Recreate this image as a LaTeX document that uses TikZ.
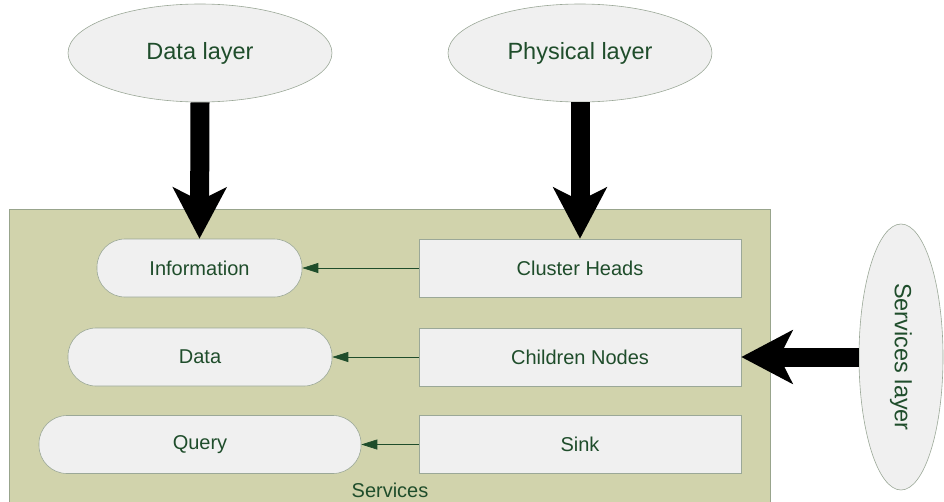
\documentclass[tikz,border=0pt]{standalone}
\usepackage{fontspec}
\setmainfont{Liberation Sans}
\usetikzlibrary{shapes.geometric,arrows.meta}
\definecolor{txt}{HTML}{1F4D2B}
\definecolor{panel}{HTML}{D1D3AC}
\definecolor{panelline}{HTML}{98A48C}
\definecolor{boxfill}{HTML}{F0F0F0}
\definecolor{boxline}{HTML}{9BA898}
\begin{document}
\begin{tikzpicture}[x=1pt,y=-1pt,
  layer/.style={ellipse,draw=boxline,fill=boxfill,line width=0.6pt,inner sep=0pt,text=txt,font=\fontsize{23.5}{26}\selectfont},
  pill/.style={rectangle,rounded corners=28pt,draw=boxline,fill=boxfill,line width=0.6pt,inner sep=0pt,minimum height=58pt,text=txt,font=\fontsize{20}{24}\selectfont},
  sbox/.style={rectangle,draw=boxline,fill=boxfill,line width=0.6pt,inner sep=0pt,minimum width=322pt,minimum height=58pt,text=txt,font=\fontsize{20}{24}\selectfont},
  thick arrow/.style={line width=19pt,-{Stealth[length=51pt,width=53pt,inset=13pt]}},
  thin arrow/.style={draw=txt,line width=0.7pt,-{Triangle[length=16pt,width=10pt]}}]
\useasboundingbox (0,0) rectangle (944,501);
\node[draw=panelline,fill=panel,line width=0.8pt,minimum width=761pt,minimum height=300pt,inner sep=0pt] (panel) at (389.5,359) {};
\node[text=txt,font=\fontsize{20}{24}\selectfont] (svc) at (390,490) {Services};
\node[layer,minimum width=264pt,minimum height=98pt] (dl) at (200,53) {Data layer};
\node[layer,minimum width=264pt,minimum height=98pt] (pl) at (580,53) {Physical layer};
\node[layer,minimum width=266pt,minimum height=84pt,rotate=-90] (sl) at (901,357) {Services layer};
\node[pill,minimum width=205pt] (info) at (199.5,268) {Information};
\node[pill,minimum width=264pt] (data) at (200,357) {Data};
\node[pill,minimum width=322pt] (query) at (200,444.5) {Query};
\node[sbox] (ch) at (580,268) {Cluster Heads};
\node[sbox] (cn) at (580,357) {Children Nodes};
\node[sbox] (sink) at (580,444.5) {Sink};
\draw[thick arrow] (dl.south) -- (info.north);
\draw[thick arrow] (pl.south) -- (ch.north);
\draw[thick arrow] (sl.south) -- (cn.east);
\draw[thin arrow] (ch.west) -- (info.east);
\draw[thin arrow] (cn.west) -- (data.east);
\draw[thin arrow] (sink.west) -- (query.east);
\end{tikzpicture}
\end{document}
